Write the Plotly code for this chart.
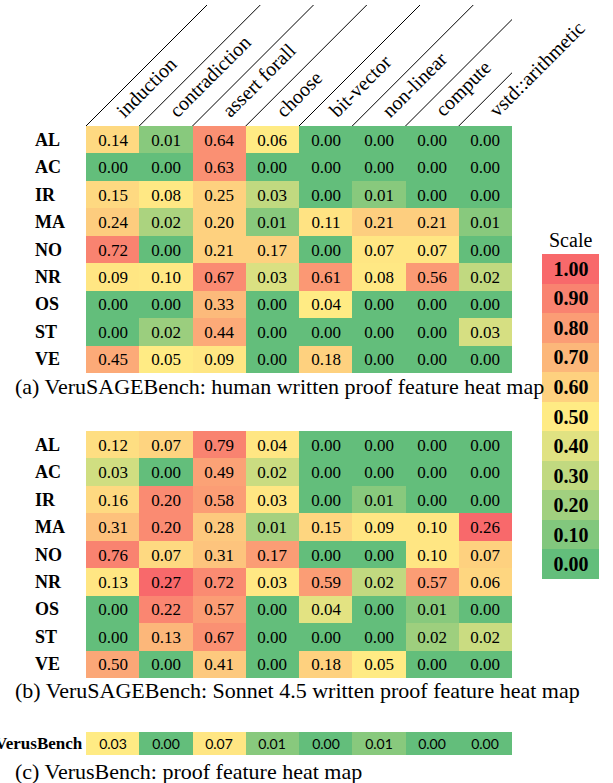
import plotly.graph_objects as go

# ---------------- data ----------------
features = ["induction", "contradiction", "assert forall", "choose",
            "bit-vector", "non-linear", "compute", "vstd::arithmetic"]
benchmarks = ["AL", "AC", "IR", "MA", "NO", "NR", "OS", "ST", "VE"]

# (a) human written proofs: displayed values
human_values = [
    [0.14, 0.01, 0.64, 0.06, 0.00, 0.00, 0.00, 0.00],
    [0.00, 0.00, 0.63, 0.00, 0.00, 0.00, 0.00, 0.00],
    [0.15, 0.08, 0.25, 0.03, 0.00, 0.01, 0.00, 0.00],
    [0.24, 0.02, 0.20, 0.01, 0.11, 0.21, 0.21, 0.01],
    [0.72, 0.00, 0.21, 0.17, 0.00, 0.07, 0.07, 0.00],
    [0.09, 0.10, 0.67, 0.03, 0.61, 0.08, 0.56, 0.02],
    [0.00, 0.00, 0.33, 0.00, 0.04, 0.00, 0.00, 0.00],
    [0.00, 0.02, 0.44, 0.00, 0.00, 0.00, 0.00, 0.03],
    [0.45, 0.05, 0.09, 0.00, 0.18, 0.00, 0.00, 0.00],
]
# (a) colour level of each cell, read against the 0-1 "Scale" legend
human_shade = [
    [0.57, 0.12, 0.85, 0.50, 0.00, 0.00, 0.00, 0.00],
    [0.00, 0.00, 0.85, 0.00, 0.00, 0.00, 0.00, 0.00],
    [0.57, 0.51, 0.60, 0.30, 0.00, 0.12, 0.00, 0.00],
    [0.62, 0.23, 0.60, 0.12, 0.53, 0.61, 0.61, 0.12],
    [0.90, 0.00, 0.60, 0.60, 0.00, 0.52, 0.52, 0.00],
    [0.52, 0.51, 0.87, 0.38, 0.82, 0.51, 0.81, 0.30],
    [0.00, 0.00, 0.69, 0.00, 0.50, 0.00, 0.00, 0.00],
    [0.00, 0.18, 0.75, 0.00, 0.00, 0.00, 0.00, 0.37],
    [0.75, 0.50, 0.52, 0.00, 0.60, 0.00, 0.00, 0.00],
]

# (b) Sonnet 4.5 written proofs
sonnet_values = [
    [0.12, 0.07, 0.79, 0.04, 0.00, 0.00, 0.00, 0.00],
    [0.03, 0.00, 0.49, 0.02, 0.00, 0.00, 0.00, 0.00],
    [0.16, 0.20, 0.58, 0.03, 0.00, 0.01, 0.00, 0.00],
    [0.31, 0.20, 0.28, 0.01, 0.15, 0.09, 0.10, 0.26],
    [0.76, 0.07, 0.31, 0.17, 0.00, 0.00, 0.10, 0.07],
    [0.13, 0.27, 0.72, 0.03, 0.59, 0.02, 0.57, 0.06],
    [0.00, 0.22, 0.57, 0.00, 0.04, 0.00, 0.01, 0.00],
    [0.00, 0.13, 0.67, 0.00, 0.00, 0.00, 0.02, 0.02],
    [0.50, 0.00, 0.41, 0.00, 0.18, 0.05, 0.00, 0.00],
]
sonnet_shade = [
    [0.55, 0.59, 0.90, 0.52, 0.00, 0.00, 0.00, 0.00],
    [0.35, 0.00, 0.78, 0.33, 0.00, 0.00, 0.00, 0.00],
    [0.57, 0.87, 0.80, 0.52, 0.00, 0.12, 0.00, 0.00],
    [0.66, 0.87, 0.63, 0.21, 0.58, 0.52, 0.52, 1.00],
    [0.90, 0.57, 0.65, 0.80, 0.00, 0.00, 0.52, 0.60],
    [0.52, 1.00, 0.87, 0.51, 0.80, 0.30, 0.80, 0.58],
    [0.00, 0.89, 0.80, 0.00, 0.41, 0.00, 0.12, 0.00],
    [0.00, 0.70, 0.85, 0.00, 0.00, 0.00, 0.19, 0.33],
    [0.76, 0.00, 0.63, 0.00, 0.60, 0.50, 0.00, 0.00],
]

# (c) VerusBench
verus_rows = ["VerusBench"]
verus_values = [[0.03, 0.00, 0.07, 0.01, 0.00, 0.01, 0.00, 0.00]]
verus_shade = [[0.50, 0.00, 0.52, 0.12, 0.00, 0.12, 0.00, 0.00]]

# Scale legend
scale_levels = [1.00, 0.90, 0.80, 0.70, 0.60, 0.50, 0.40, 0.30, 0.20, 0.10, 0.00]

captions = [
    "(a) VeruSAGEBench: human written proof feature heat map",
    "(b) VeruSAGEBench: Sonnet 4.5 written proof feature heat map",
    "(c) VerusBench: proof feature heat map",
]

# ---------------- layout helpers ----------------
W, H = 613, 783
SERIF = "Liberation Serif, Times New Roman, serif"


def px(p):
    return p / W


def py(p):
    return 1 - p / H


colorscale = [[0.0, "#63BE7B"], [0.5, "#FFEB84"], [1.0, "#F8696B"]]


def fmt(rows):
    return [[f"{v:.2f}" for v in r] for r in rows]


fig = go.Figure()


def add_table(shade, values, rows, xa, ya, font):
    fig.add_trace(go.Heatmap(
        z=shade, x=features, y=rows, text=fmt(values),
        texttemplate="%{text}", textfont=font,
        colorscale=colorscale, zmin=0, zmax=1, showscale=False,
        xaxis=xa, yaxis=ya, hoverinfo="skip", xgap=0, ygap=0,
    ))


cell_font = dict(family=SERIF, size=17, color="black")
add_table(human_shade, human_values, benchmarks, "x", "y", cell_font)
add_table(sonnet_shade, sonnet_values, benchmarks, "x2", "y2", cell_font)
add_table(verus_shade, verus_values, verus_rows, "x3", "y3",
          dict(family="Lato, Liberation Sans, sans-serif", size=14, color="black"))

# legend column
scale_labels = [f"{v:.2f}" for v in scale_levels]
fig.add_trace(go.Heatmap(
    z=[[v] for v in scale_levels], x=["Scale"], y=scale_labels,
    text=[[s] for s in scale_labels], texttemplate="<b>%{text}</b>",
    textfont=dict(family=SERIF, size=20, color="black"),
    colorscale=colorscale, zmin=0, zmax=1, showscale=False,
    xaxis="x4", yaxis="y4", hoverinfo="skip",
))

hidden = dict(showticklabels=False, showgrid=False, zeroline=False,
              ticks="", showline=False, fixedrange=True)
ncol = len(features)
xr = [-0.5, ncol - 0.5]
tab_x = [px(86), px(512)]
fig.update_layout(
    width=W, height=H, margin=dict(l=0, r=0, t=0, b=0),
    paper_bgcolor="white", plot_bgcolor="white", showlegend=False,
    xaxis=dict(domain=tab_x, anchor="y", range=xr, **hidden),
    yaxis=dict(domain=[py(373), py(126)], anchor="x",
               range=[len(benchmarks) - 0.5, -0.5], **hidden),
    xaxis2=dict(domain=tab_x, anchor="y2", range=xr, **hidden),
    yaxis2=dict(domain=[py(678), py(431)], anchor="x2",
                range=[len(benchmarks) - 0.5, -0.5], **hidden),
    xaxis3=dict(domain=tab_x, anchor="y3", range=xr, **hidden),
    yaxis3=dict(domain=[py(755), py(732)], anchor="x3", range=[-0.5, 0.5], **hidden),
    xaxis4=dict(domain=[px(542), px(599)], anchor="y4", range=[-0.5, 0.5], **hidden),
    yaxis4=dict(domain=[py(579), py(254)], anchor="x4",
                range=[len(scale_levels) - 0.5, -0.5], **hidden),
)

annotations = []
# row labels
for yref in ("y", "y2"):
    for r in benchmarks:
        annotations.append(dict(
            x=px(33), xref="paper", y=r, yref=yref, xanchor="left", yanchor="middle",
            text=f"<b>{r}</b>", showarrow=False,
            font=dict(family=SERIF, size=18, color="black")))
annotations.append(dict(
    x=px(85), xref="paper", y=verus_rows[0], yref="y3", xanchor="right", yanchor="middle",
    text=f"<b>{verus_rows[0]}</b>", showarrow=False,
    font=dict(family=SERIF, size=17, color="black")))

# rotated column headers
for f in features:
    annotations.append(dict(
        x=f, xref="x", y=py(124), yref="paper", xanchor="left", yanchor="bottom",
        xshift=-4, text=f, textangle=-45, showarrow=False,
        font=dict(family=SERIF, size=20, color="black")))

# captions
for cap, yc in zip(captions, (387, 690, 771)):
    annotations.append(dict(
        x=px(13), xref="paper", y=py(yc), yref="paper", xanchor="left", yanchor="middle",
        text=cap, showarrow=False, font=dict(family=SERIF, size=22, color="black")))

annotations.append(dict(
    x=px(570), xref="paper", y=py(240), yref="paper", xanchor="center", yanchor="middle",
    text="Scale", showarrow=False, font=dict(family=SERIF, size=20, color="black")))

# diagonal separators in the header band
shapes = []
for i in range(ncol + 1):
    length = 121 if i < ncol else 89
    shapes.append(dict(
        type="line", xref="x", yref="paper",
        xsizemode="pixel", xanchor=i - 0.5, x0=0, x1=length,
        ysizemode="pixel", yanchor=py(126), y0=0, y1=length,
        line=dict(color="black", width=1)))

fig.update_layout(annotations=annotations, shapes=shapes)
fig.write_html("out.html", config={"displayModeBar": False},
               post_script="document.body.style.margin='0';"
                           "document.body.style.overflow='hidden';")
